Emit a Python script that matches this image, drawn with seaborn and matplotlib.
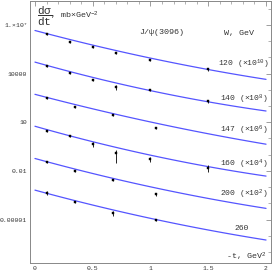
import numpy as np
import pandas as pd
import seaborn as sns
import matplotlib.pyplot as plt
from matplotlib.ticker import FixedLocator, FixedFormatter, MultipleLocator, NullFormatter

# Data (dsigma/dt in mb/GeV^2, before scaling)
t_a = [0.1, 0.3, 0.5, 0.7, 1.0, 1.5]
t_b = [0.1, 0.35, 0.675, 1.05]

energies = ["120", "140", "147", "160", "200", "260"]
scales = [1e10, 1e8, 1e6, 1e4, 1e2, 1.0]
scale_txt = [" (×10$^{10}$)", " (×10$^{8}$)", " (×10$^{6}$)", " (×10$^{4}$)", " (×10$^{2}$)", ""]

t_pts = [t_a, t_a, t_b, t_a, t_b, t_b]
xs_120 = [2.72e-4, 8.4e-5, 4.55e-5, 1.95e-5, 7.2e-6, 1.83e-6]
xs_140 = [3.08e-4, 1.14e-4, 3.85e-5, 1.57e-5, 9.3e-6, 1.96e-6]
xs_147 = [3.13e-4, 8.75e-5, 2.81e-5, 4.46e-6]
xs_160 = [2.79e-4, 1.37e-4, 4.43e-5, 1.19e-5, 5.28e-6, 1.54e-6]
xs_200 = [3.31e-4, 1.01e-4, 2.58e-5, 3.56e-6]
xs_260 = [4.46e-4, 1.19e-4, 2.51e-5, 9.3e-6]
xsec = [xs_120, xs_140, xs_147, xs_160, xs_200, xs_260]

# relative errors
er_120 = [0.12, 0.12, 0.12, 0.15, 0.12, 0.15]
er_140 = [0.12, 0.12, 0.15, 0.35, 0.12, 0.2]
er_147 = [0.12, 0.12, 0.15, 0.15]
er_160 = [0.12, 0.15, 0.3, 0.75, 0.3, 0.45]
er_200 = [0.12, 0.12, 0.12, 0.15]
er_260 = [0.3, 0.12, 0.3, 0.12]
rel_err = [er_120, er_140, er_147, er_160, er_200, er_260]

# model curves: log10(dsigma/dt) = a - b*t + c*t^2
curve_a = [-3.34, -3.289, -3.277, -3.246, -3.234, -3.185]
curve_b = [1.899, 2.012, 1.872, 2.03, 1.9575, 1.9435]
curve_c = [0.196, 0.252, 0.167, 0.2465, 0.2095, 0.2025]

# label positions (t, value on plot)
lab_t = [1.585, 1.60, 1.60, 1.60, 1.60, 1.724]
lab_y = [10**4.55, 10**2.434, 10**0.489, 10**-1.566, 10**-3.449, 10**-5.566]

sns.set_style("white")
plt.rcParams['font.family'] = ['Liberation Mono', 'DejaVu Sans Mono']
plt.rcParams['mathtext.fontset'] = 'custom'
plt.rcParams['mathtext.rm'] = 'Liberation Mono'
plt.rcParams['mathtext.it'] = 'Liberation Mono'

fig = plt.figure(figsize=(2.73, 2.73), dpi=100)
ax = fig.add_axes([30 / 273, 10 / 273, 241 / 273, 262.5 / 273])

tt = np.linspace(0, 2, 120)
rows = []
pts = []
for i, e in enumerate(energies):
    logv = curve_a[i] - curve_b[i] * tt + curve_c[i] * tt ** 2
    rows.append(pd.DataFrame({"t": tt, "v": 10 ** logv * scales[i], "W": e}))
    pts.append(pd.DataFrame({"t": t_pts[i], "v": np.array(xsec[i]) * scales[i],
                             "err": np.array(xsec[i]) * scales[i] * np.array(rel_err[i]), "W": e}))
curves = pd.concat(rows)
points = pd.concat(pts)

sns.lineplot(data=curves, x="t", y="v", units="W", estimator=None,
             color="#5555ff", lw=0.9, ax=ax)
ax.errorbar(points["t"], points["v"], yerr=points["err"], fmt="none",
            ecolor="black", elinewidth=0.6, capsize=0)
sns.scatterplot(data=points, x="t", y="v", marker="s", s=4, color="black",
                edgecolor="black", linewidth=0.3, ax=ax, zorder=5)

ax.set_yscale("log")
ax.set_xlim(-0.043, 2.043)
ax.set_ylim(10 ** -7.68, 10 ** 8.51)

ax.xaxis.set_major_locator(FixedLocator([0, 0.5, 1, 1.5, 2]))
ax.xaxis.set_major_formatter(FixedFormatter(["0", "0.5", "1", "1.5", "2"]))
ax.xaxis.set_minor_locator(MultipleLocator(0.1))
ax.yaxis.set_major_locator(FixedLocator([1e7, 1e4, 1e1, 1e-2, 1e-5]))
ax.yaxis.set_major_formatter(FixedFormatter(["1.×10$^{7}$", "10000", "10", "0.01", "0.00001"]))
ax.yaxis.set_minor_locator(FixedLocator([10.0 ** k for k in range(-7, 9)]))
ax.yaxis.set_minor_formatter(NullFormatter())
ax.tick_params(which="both", direction="in", top=True, right=True, colors="#777777",
               labelcolor="#333333", labelsize=4.6, pad=2)
ax.tick_params(which="major", length=3.5, width=0.5)
ax.tick_params(which="minor", length=2, width=0.4)
for s in ax.spines.values():
    s.set_color("#888888")
    s.set_linewidth(0.7)
ax.set_xlabel("")
ax.set_ylabel("")

for i, e in enumerate(energies):
    ax.text(lab_t[i], lab_y[i], e + scale_txt[i], fontsize=5.8, color="#333333",
            ha="left", va="center")

ax.text(0.905, 10 ** 6.52, "J/ψ(3096)", fontsize=6, color="#333333", ha="left", va="center")
ax.text(1.638, 10 ** 6.46, "W, GeV", fontsize=6, color="#333333", ha="left", va="center")
ax.text(0.027, 0.939, r"$\dfrac{d\sigma}{dt}$", transform=ax.transAxes,
        fontsize=8, color="#333333", ha="left", va="center")
ax.text(0.083, 0.943, ", mb×GeV$^{-2}$", transform=ax.transAxes,
        fontsize=6, color="#333333", ha="left", va="center")
ax.text(0.979, 0.025, "-t, GeV$^{2}$", transform=ax.transAxes,
        fontsize=6, color="#333333", ha="right", va="center")

fig.savefig("out.png", dpi=100)
